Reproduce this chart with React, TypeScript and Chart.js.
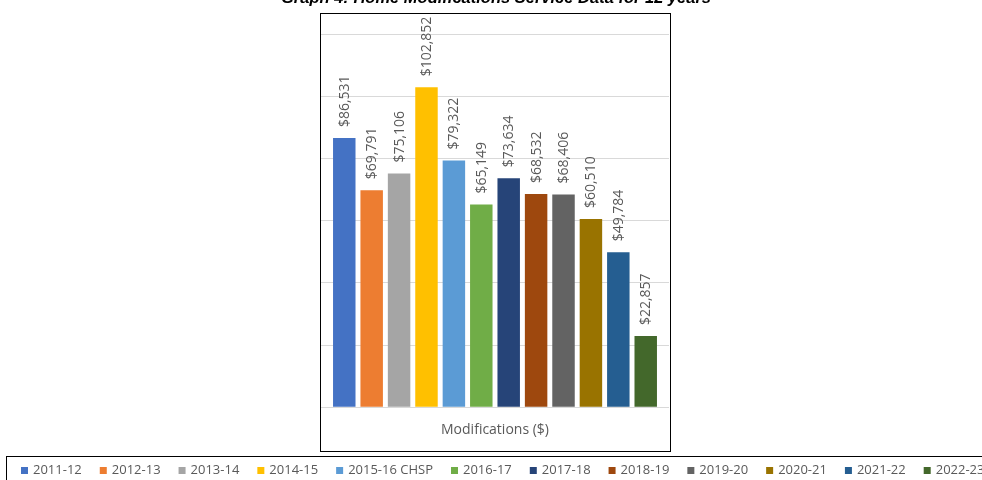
import React, { useEffect, useRef } from "react";
import { Chart, registerables } from "chart.js";

Chart.register(...registerables);

// Home modifications spend by financial year
const TITLE = "Graph 4: Home Modifications Service Data for 12 years";
const CATEGORIES = ["Modifications ($)"];
const YEARS = [
  "2011-12", "2012-13", "2013-14", "2014-15", "2015-16 CHSP", "2016-17",
  "2017-18", "2018-19", "2019-20", "2020-21", "2021-22", "2022-23",
];
const SPEND = [86531, 69791, 75106, 102852, 79322, 65149, 73634, 68532, 68406, 60510, 49784, 22857];
const COLORS = [
  "#4472C4", "#ED7D31", "#A5A5A5", "#FFC000", "#5B9BD5", "#70AD47",
  "#264478", "#9E480E", "#636363", "#997300", "#255E91", "#43682B",
];
const Y_MAX = 120000;
const Y_STEP = 20000;

const TEXT_GRAY = "#595959";
const FONT_FAMILY = "'Open Sans', 'Noto Sans', sans-serif";

const formatDollars = (v: number) => "$" + v.toLocaleString("en-US");

// Draws the title, the chart frame, the data labels and the legend strip
const decorations = {
  id: "decorations",
  afterDraw(chart: Chart) {
    const ctx = chart.ctx;
    ctx.save();

    // title (sits at the very top edge)
    ctx.fillStyle = "#000";
    ctx.font = "italic bold 16.5px 'Liberation Sans', Arial, sans-serif";
    ctx.textAlign = "center";
    ctx.textBaseline = "alphabetic";
    ctx.fillText(TITLE, 496, 3);

    // chart frame
    ctx.strokeStyle = "#000";
    ctx.lineWidth = 1;
    ctx.strokeRect(320.5, 13.5, 350, 438);

    // value labels, rotated, above each bar
    ctx.fillStyle = TEXT_GRAY;
    ctx.font = `14px ${FONT_FAMILY}`;
    ctx.textAlign = "left";
    ctx.textBaseline = "middle";
    chart.data.datasets.forEach((ds, i) => {
      const meta = chart.getDatasetMeta(i);
      const bar = meta.data[0] as any;
      if (!bar) return;
      const value = ds.data[0] as number;
      ctx.save();
      ctx.translate(bar.x + 0.5, bar.y - 11);
      ctx.rotate(-Math.PI / 2);
      ctx.fillText(formatDollars(value), 0, 0);
      ctx.restore();
    });

    // legend strip
    ctx.strokeStyle = "#000";
    ctx.lineWidth = 1;
    ctx.strokeRect(6.5, 456.5, 1100, 40);
    ctx.font = `13px ${FONT_FAMILY}`;
    ctx.textBaseline = "middle";
    let x = 21;
    const cy = 470.5;
    chart.data.datasets.forEach((ds) => {
      ctx.fillStyle = ds.backgroundColor as string;
      ctx.fillRect(x, cy - 3.5, 7, 7);
      ctx.fillStyle = TEXT_GRAY;
      const label = ds.label as string;
      ctx.fillText(label, x + 12, cy);
      x += 12 + ctx.measureText(label).width + 18;
    });

    ctx.restore();
  },
};

export default function App() {
  const canvasRef = useRef<HTMLCanvasElement | null>(null);

  useEffect(() => {
    if (!canvasRef.current) return;
    const chart = new Chart(canvasRef.current, {
      type: "bar",
      data: {
        labels: CATEGORIES,
        datasets: YEARS.map((year, i) => ({
          label: year,
          data: [SPEND[i]],
          backgroundColor: COLORS[i],
          borderWidth: 0,
          categoryPercentage: 0.945,
          barPercentage: 0.82,
        })),
      },
      options: {
        responsive: false,
        animation: false,
        layout: { padding: { left: 321, right: 313, top: 34, bottom: 28 } },
        plugins: {
          legend: { display: false },
          title: { display: false },
          tooltip: { enabled: false },
        },
        scales: {
          x: {
            grid: { display: false, drawTicks: false },
            border: { display: false },
            ticks: {
              padding: 14,
              color: TEXT_GRAY,
              font: { family: FONT_FAMILY, size: 14 },
            },
          },
          y: {
            min: 0,
            max: Y_MAX,
            ticks: { display: false, stepSize: Y_STEP },
            grid: { color: "#d9d9d9", drawTicks: false },
            border: { display: false },
          },
        },
      },
      plugins: [decorations],
    });
    return () => chart.destroy();
  }, []);

  return (
    <div style={{ position: "fixed", left: 0, top: 0, width: 982, height: 480, background: "#fff", overflow: "hidden" }}>
      <canvas ref={canvasRef} width={982} height={480} />
    </div>
  );
}
